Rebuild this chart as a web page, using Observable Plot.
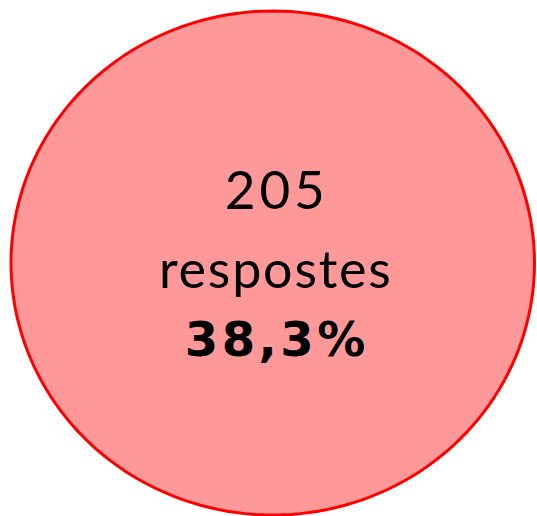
<!DOCTYPE html>
<html>
<head>
<meta charset="utf-8">
<script src="https://cdn.jsdelivr.net/npm/d3@7"></script>
<script src="https://cdn.jsdelivr.net/npm/@observablehq/plot@0.6"></script>
<style>
  html, body { margin: 0; padding: 0; background: #fff; }
  #chart svg { display: block; }
  #chart text.count { letter-spacing: 4px; }
  #chart text.label { letter-spacing: 1.8px; }
  #chart text.pct { letter-spacing: 3.5px; }
</style>
</head>
<body>
<div id="chart"></div>
<script>
// Data
const respostes = [205];
const percent = [38.3];
const labels = ["respostes"];

// Unit circle outline (shape), stretched to an ellipse by the x/y scales
const outline = d3.range(0, 361, 2).map(a => ({
  x: Math.cos(a * Math.PI / 180),
  y: Math.sin(a * Math.PI / 180)
}));

const center = [{x: 0, y: 0}];
const fmt = v => v.toFixed(1).replace(".", ",") + "%";
const font = "Lato, 'Open Sans', sans-serif";

const chart = Plot.plot({
  width: 537,
  height: 516,
  margin: 0,
  x: {domain: [-1, 1], range: [10.5, 534], axis: null},
  y: {domain: [-1, 1], range: [514.5, 10.5], axis: null},
  style: {background: "transparent"},
  marks: [
    Plot.line(outline, {x: "x", y: "y", curve: "linear-closed", fill: "#ff9999", stroke: "#ff0000", strokeWidth: 3}),
    Plot.text(center, {x: "x", y: "y", text: () => String(respostes[0]), fontSize: 53, fontFamily: font, fill: "#000", dy: -71, dx: 4}),
    Plot.text(center, {x: "x", y: "y", text: () => labels[0], fontSize: 52, fontFamily: font, fill: "#000", dy: 8, dx: 3}),
    Plot.text(center, {x: "x", y: "y", text: () => fmt(percent[0]), fontSize: 48, fontWeight: "bold", fontFamily: "'DejaVu Sans', sans-serif", fill: "#000", dy: 78, dx: 4})
  ]
});
const texts = d3.select(chart).selectAll("text").nodes();
texts.forEach(t => {
  if (t.textContent === String(respostes[0])) t.classList.add("count");
  else if (t.textContent === labels[0]) t.classList.add("label");
  else if (t.textContent === fmt(percent[0])) t.classList.add("pct");
});
document.getElementById("chart").appendChild(chart);
</script>
</body>
</html>
